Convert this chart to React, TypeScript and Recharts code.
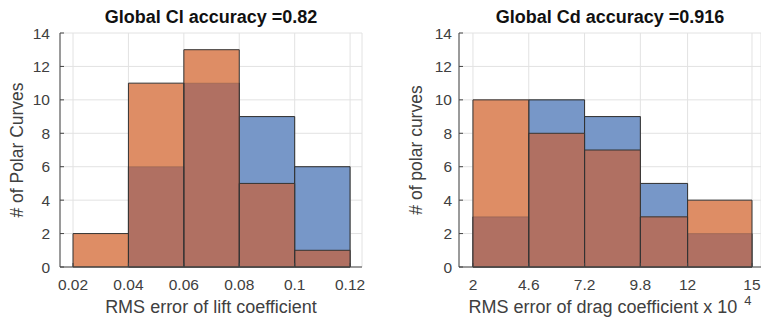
import React from 'react';
import { ComposedChart, XAxis, YAxis, CartesianGrid, ReferenceArea, Label } from 'recharts';

// left panel: lift coefficient error histogram
const clEdges = [0.02, 0.04, 0.06, 0.08, 0.1, 0.12];
const clBlue = [0, 6, 11, 9, 6];
const clOrange = [2, 11, 13, 5, 1];
const clTicks = [0.02, 0.04, 0.06, 0.08, 0.1, 0.12];

// right panel: drag coefficient error histogram (x 10^4)
const cdEdges = [2, 4.6, 7.2, 9.8, 12, 15];
const cdBlue = [3, 10, 9, 5, 2];
const cdOrange = [10, 8, 7, 3, 4];
const cdTicks = [2, 4.6, 7.2, 9.8, 12, 15];

const countTicks = [0, 2, 4, 6, 8, 10, 12, 14];

const BLUE = '#7797c8';
const ORANGE = '#de8d65';
const BROWN = '#b07062';
const EDGE = '#333333';
const AXIS = '#444444';
const TEXT = '#404040';
const FONT = '"Liberation Sans", Arial, Helvetica, sans-serif';

const BottomLabel = ({ viewBox, text, sup }: any) => {
  const { x, y, width, height } = viewBox;
  return (
    <text x={x + width / 2} y={y + height - 9} textAnchor="middle" fontFamily={FONT} fontSize={18} fill={TEXT}>
      <tspan>{text}</tspan>
      {sup && <tspan dx={7} dy={-8} fontSize={13}>{sup}</tspan>}
    </text>
  );
};

interface HistProps {
  edges: number[];
  blue: number[];
  orange: number[];
  ticks: number[];
  domain: [number, number];
  title: string;
  xLabel: string;
  sup?: string;
  yLabel: string;
  width: number;
  yAxisWidth: number;
  right: number;
  tickGap: number;
}

const Histogram: React.FC<HistProps> = (p) => {
  const bins = p.blue.map((b, i) => ({
    x1: p.edges[i],
    x2: p.edges[i + 1],
    blue: b,
    orange: p.orange[i],
    both: Math.min(b, p.orange[i]),
  }));
  const plotLeft = p.yAxisWidth;
  const plotWidth = p.width - p.yAxisWidth - p.right;

  return (
    <div style={{ position: 'relative', width: p.width, height: 322 }}>
      <ComposedChart width={p.width} height={322} data={bins} margin={{ top: 33, right: p.right, left: 0, bottom: 0 }}>
        <CartesianGrid stroke="#e2e2e2" strokeWidth={1} />
        <XAxis
          type="number"
          dataKey="x1"
          domain={p.domain}
          allowDataOverflow
          ticks={p.ticks}
          interval={0}
          height={55}
          tickSize={-4}
          tickMargin={16}
          stroke={AXIS}
          tick={{ fill: TEXT, fontSize: 15.5, fontFamily: FONT }}
        >
          <Label content={<BottomLabel text={p.xLabel} sup={p.sup} />} />
        </XAxis>
        <XAxis
          xAxisId="top"
          orientation="top"
          type="number"
          domain={p.domain}
          allowDataOverflow
          ticks={p.ticks}
          interval={0}
          height={0}
          tickSize={-4}
          tick={false}
          stroke={AXIS}
        />
        <YAxis
          type="number"
          domain={[0, 14]}
          allowDataOverflow
          ticks={countTicks}
          interval={0}
          width={p.yAxisWidth}
          tickSize={-4}
          tickMargin={p.tickGap}
          stroke={AXIS}
          tick={{ fill: TEXT, fontSize: 15.5, fontFamily: FONT }}
          label={{ value: p.yLabel, angle: -90, position: 'insideLeft', offset: p.yAxisWidth - 43, style: { textAnchor: 'middle', fill: TEXT, fontSize: 17.5, fontFamily: FONT } }}
        />
        <YAxis
          yAxisId="right"
          orientation="right"
          type="number"
          domain={[0, 14]}
          allowDataOverflow
          ticks={countTicks}
          interval={0}
          width={0}
          tickSize={-4}
          tick={false}
          stroke={AXIS}
        />
        {bins.map((d, i) => (
          <ReferenceArea key={'b' + i} x1={d.x1} x2={d.x2} y1={0} y2={d.blue} fill={BLUE} fillOpacity={1} stroke={EDGE} strokeWidth={1} ifOverflow="visible" />
        ))}
        {bins.map((d, i) => (
          <ReferenceArea key={'o' + i} x1={d.x1} x2={d.x2} y1={0} y2={d.orange} fill={ORANGE} fillOpacity={1} stroke="none" ifOverflow="visible" />
        ))}
        {bins.map((d, i) => (
          <ReferenceArea key={'m' + i} x1={d.x1} x2={d.x2} y1={0} y2={d.both} fill={BROWN} fillOpacity={1} stroke="none" ifOverflow="visible" />
        ))}
        {bins.map((d, i) => (
          <ReferenceArea key={'bl' + i} x1={d.x1} x2={d.x2} y1={0} y2={d.blue} fill="none" fillOpacity={0} stroke={EDGE} strokeOpacity={0.2} ifOverflow="visible" />
        ))}
        {bins.map((d, i) => (
          <ReferenceArea key={'ol' + i} x1={d.x1} x2={d.x2} y1={0} y2={d.orange} fill="none" fillOpacity={0} stroke={EDGE} strokeWidth={1} ifOverflow="visible" />
        ))}
      </ComposedChart>
      <div
        style={{
          position: 'absolute',
          left: plotLeft,
          width: plotWidth,
          top: 8,
          textAlign: 'center',
          fontFamily: FONT,
          fontWeight: 'bold',
          fontSize: 18,
          lineHeight: '18px',
          color: '#111',
          whiteSpace: 'nowrap',
        }}
      >
        {p.title}
      </div>
    </div>
  );
};

export default function App() {
  return (
    <div style={{ position: 'absolute', left: 0, top: 0, width: 761, height: 322, background: '#fff' }}>
      <div style={{ position: 'absolute', left: 0, top: 0 }}>
        <Histogram
          edges={clEdges}
          blue={clBlue}
          orange={clOrange}
          ticks={clTicks}
          domain={[0.0153, 0.1243]}
          title="Global Cl accuracy =0.82"
          xLabel="RMS error of lift coefficient"
          yLabel="# of Polar Curves"
          width={380}
          yAxisWidth={60}
          right={18}
          tickGap={14}
        />
      </div>
      <div style={{ position: 'absolute', left: 380, top: 0 }}>
        <Histogram
          edges={cdEdges}
          blue={cdBlue}
          orange={cdOrange}
          ticks={cdTicks}
          domain={[1.35, 15.42]}
          title="Global Cd accuracy =0.916"
          xLabel="RMS error of drag coefficient x 10"
          sup="4"
          yLabel="# of polar curves"
          width={381}
          yAxisWidth={79}
          right={0}
          tickGap={11}
        />
      </div>
    </div>
  );
}
